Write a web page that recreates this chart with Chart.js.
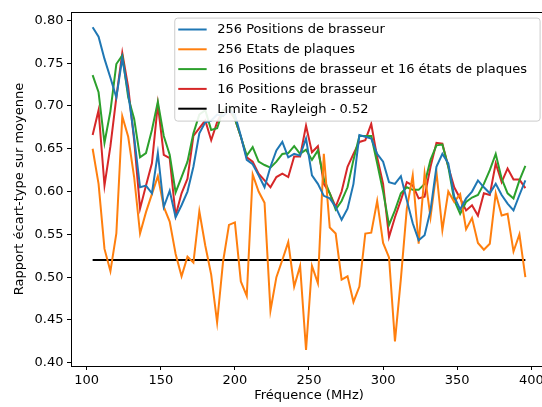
<!DOCTYPE html>
<html>
<head>
<meta charset="utf-8">
<script src="https://cdn.jsdelivr.net/npm/chart.js@4"></script>
<style>
  html, body { margin: 0; padding: 0; background: #fff; overflow: hidden; }
  #wrap { width: 548px; height: 407px; }
</style>
</head>
<body>
<div id="wrap"><canvas id="myChart" width="548" height="407"></canvas></div>
<script>
const freqs = [104,108,112,116,120,124,128,132,136,140,144,148,152,156,160,164,168,172,176,180,
  184,188,192,196,200,204,208,212,216,220,224,228,232,236,240,244,248,252,256,260,
  264,268,272,276,280,284,288,292,296,300,304,308,312,316,320,324,328,332,336,340,
  344,348,352,356,360,364,368,372,376,380,384,388,392,396]

const brasseur256 = [0.792,0.781,0.755,0.733,0.710,0.756,0.715,0.664,0.605,0.607,
  0.598,0.645,0.582,0.601,0.570,0.584,0.600,0.629,0.668,0.681,
  0.683,0.690,0.688,0.695,0.690,0.665,0.637,0.632,0.619,0.605,
  0.629,0.648,0.658,0.640,0.644,0.642,0.662,0.619,0.609,0.595,
  0.592,0.582,0.567,0.580,0.609,0.666,0.664,0.662,0.644,0.635,
  0.611,0.609,0.618,0.590,0.563,0.543,0.549,0.578,0.629,0.644,
  0.633,0.594,0.579,0.592,0.600,0.613,0.605,0.598,0.609,0.596,
  0.586,0.578,0.596,0.613]

const plaques256 = [0.650,0.609,0.533,0.507,0.551,0.688,0.664,0.617,0.551,0.576,
  0.597,0.618,0.582,0.565,0.527,0.501,0.524,0.517,0.577,0.537,
  0.503,0.447,0.518,0.561,0.564,0.495,0.478,0.620,0.600,0.587,
  0.461,0.500,0.520,0.541,0.489,0.513,0.415,0.513,0.493,0.644,
  0.558,0.551,0.497,0.501,0.471,0.489,0.551,0.552,0.589,0.540,
  0.523,0.425,0.498,0.580,0.619,0.539,0.621,0.570,0.623,0.555,
  0.600,0.588,0.597,0.556,0.569,0.540,0.532,0.539,0.598,0.572,
  0.574,0.530,0.550,0.500]

const combine16 = [0.736,0.716,0.657,0.694,0.749,0.759,0.710,0.685,0.640,0.645,
  0.672,0.705,0.665,0.643,0.599,0.617,0.635,0.668,0.690,0.695,
  0.672,0.674,0.695,0.700,0.685,0.664,0.642,0.652,0.635,0.631,
  0.628,0.635,0.644,0.645,0.653,0.644,0.649,0.637,0.648,0.615,
  0.598,0.579,0.589,0.605,0.637,0.665,0.665,0.665,0.633,0.600,
  0.561,0.578,0.598,0.605,0.602,0.602,0.609,0.637,0.654,0.655,
  0.629,0.590,0.574,0.588,0.593,0.596,0.609,0.625,0.644,0.615,
  0.598,0.592,0.613,0.630]

const brasseur16 = [0.666,0.695,0.607,0.653,0.710,0.762,0.722,0.660,0.580,0.607,
  0.633,0.702,0.643,0.639,0.572,0.598,0.615,0.665,0.674,0.683,
  0.660,0.681,0.695,0.695,0.685,0.664,0.640,0.635,0.621,0.613,
  0.605,0.617,0.621,0.617,0.641,0.641,0.677,0.646,0.653,0.609,
  0.598,0.582,0.600,0.629,0.644,0.658,0.660,0.679,0.640,0.609,
  0.547,0.570,0.590,0.611,0.607,0.592,0.594,0.629,0.657,0.656,
  0.629,0.605,0.592,0.578,0.584,0.572,0.598,0.596,0.633,0.611,
  0.627,0.614,0.614,0.604]

const limite = 0.52

const xTicks = [100,150,200,250,300,350,400]
const yTicks = [0.40,0.45,0.50,0.55,0.60,0.65,0.70,0.75,0.80]

const police = { family: 'DejaVu Sans', size: 13 }

// legende dans le cadre, en haut a droite, comme matplotlib
const legendBox = {
  id: 'legendBox',
  afterDatasetsDraw(chart) {
    const { ctx, chartArea } = chart
    const sets = chart.data.datasets
    ctx.save()
    // cadre complet (le haut manque sinon)
    ctx.strokeStyle = '#000'
    ctx.lineWidth = 1
    ctx.strokeRect(chartArea.left + 0.5, Math.round(chartArea.top) + 0.5,
      chartArea.right - chartArea.left, chartArea.bottom - chartArea.top)

    ctx.font = '13px "DejaVu Sans"'
    const textW = Math.max(...sets.map(d => ctx.measureText(d.label).width))
    const w = 4 + 28.4 + 10.6 + textW + 12.5
    const rowH = 19.8
    const h = 11.9 * 2 + rowH * (sets.length - 1)
    const right = chartArea.right - 7.4
    const top = chartArea.top + 5.6
    const left = right - w
    ctx.beginPath()
    ctx.roundRect(left + 0.5, top + 0.5, w, h, 3)
    ctx.fillStyle = 'rgba(255,255,255,0.9)'
    ctx.fill()
    ctx.strokeStyle = '#cccccc'
    ctx.stroke()

    sets.forEach((d, i) => {
      const y = top + 11.9 + i * rowH
      ctx.beginPath()
      ctx.moveTo(left + 4, y)
      ctx.lineTo(left + 32.4, y)
      ctx.strokeStyle = d.borderColor
      ctx.lineWidth = 2
      ctx.stroke()
      ctx.fillStyle = '#000'
      ctx.textBaseline = 'middle'
      ctx.textAlign = 'left'
      ctx.fillText(d.label, left + 43, y + 0.5)
    })
    ctx.restore()
  }
}

const ligne = (label, data, color) => ({
  label: label,
  data: data,
  borderColor: color,
  backgroundColor: color,
  borderWidth: 2,
  pointRadius: 0,
  tension: 0,
  fill: false
})

const ctx = document.getElementById('myChart')

new Chart(ctx, {
  type: 'line',
  data: {
    labels: freqs,
    datasets: [
      ligne('256 Positions de brasseur', brasseur256, '#1f77b4'),
      ligne('256 Etats de plaques', plaques256, '#ff7f0e'),
      ligne('16 Positions de brasseur et 16 états de plaques', combine16, '#2ca02c'),
      ligne('16 Positions de brasseur', brasseur16, '#d62728'),
      ligne('Limite - Rayleigh - 0.52', freqs.map(() => limite), '#000000')
    ]
  },
  options: {
    responsive: false,
    animation: false,
    layout: { padding: { top: 12, right: 1, bottom: 0, left: 0 } },
    plugins: {
      legend: { display: false },
      tooltip: { enabled: false }
    },
    scales: {
      x: {
        type: 'linear',
        min: 89.4,
        max: 410.6,
        afterBuildTicks: (scale) => { scale.ticks = xTicks.map(v => ({ value: v })) },
        afterFit: (scale) => { scale.height = 41 },
        grid: { drawOnChartArea: false, drawTicks: true, tickLength: 4, tickColor: '#000', tickWidth: 1 },
        border: { display: true, color: '#000', width: 1 },
        ticks: { color: '#000', font: police, padding: 3, maxRotation: 0, autoSkip: false },
        title: { display: true, text: 'Fréquence (MHz)', color: '#000', font: police, padding: { top: 0, bottom: 4 } }
      },
      y: {
        min: 0.3962,
        max: 0.8098,
        afterBuildTicks: (scale) => { scale.ticks = yTicks.map(v => ({ value: v })) },
        afterFit: (scale) => { scale.width = 71 },
        grid: { drawOnChartArea: false, drawTicks: true, tickLength: 4, tickColor: '#000', tickWidth: 1 },
        border: { display: true, color: '#000', width: 1 },
        ticks: { color: '#000', font: police, padding: 3.5, autoSkip: false, callback: (v) => v.toFixed(2) },
        title: { display: true, text: 'Rapport écart-type sur moyenne', color: '#000', font: police, padding: { top: 12, bottom: 0 } }
      }
    }
  },
  plugins: [legendBox]
})
</script>
</body>
</html>
